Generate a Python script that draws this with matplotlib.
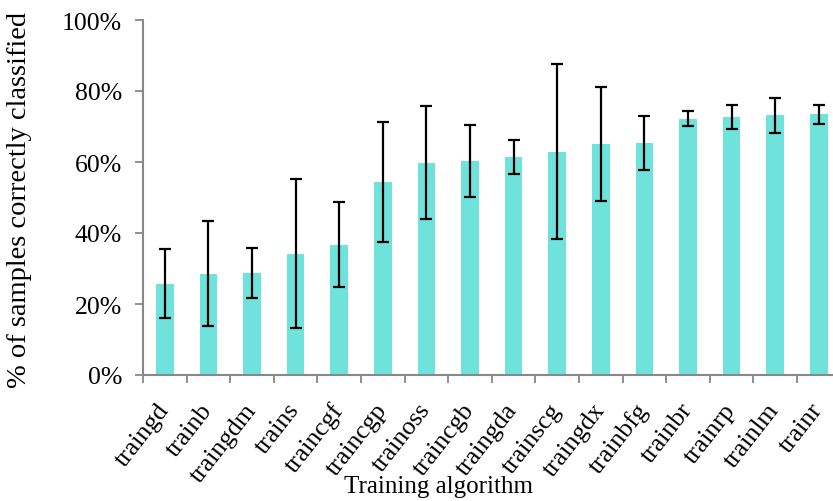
import matplotlib
matplotlib.use("Agg")
import matplotlib.pyplot as plt
from matplotlib.ticker import FuncFormatter, FixedLocator
import numpy as np

algorithms = ["traingd", "trainb", "traingdm", "trains", "traincgf", "traincgp",
              "trainoss", "traincgb", "traingda", "trainscg", "traingdx", "trainbfg",
              "trainbr", "trainrp", "trainlm", "trainr"]
accuracy = [25.7, 28.4, 28.7, 34.2, 36.6, 54.3, 59.8, 60.3, 61.3, 62.7, 65.0, 65.3,
            72.1, 72.7, 73.1, 73.4]
err_upper = [35.6, 43.3, 35.9, 55.3, 48.6, 71.3, 75.7, 70.4, 66.1, 87.5, 81.2, 72.9,
             74.3, 76.0, 77.9, 76.0]
err_lower = [16.0, 13.8, 21.8, 13.2, 24.8, 37.6, 43.9, 50.1, 56.7, 38.2, 48.9, 57.8,
             70.1, 69.3, 68.2, 70.8]
y_ticks = [0, 20, 40, 60, 80, 100]

plt.rcParams["font.family"] = ["Liberation Serif", "DejaVu Serif"]

W, H = 833, 502
fig = plt.figure(figsize=(W / 100, H / 100), dpi=100)
left, bottom, top = 143, 376, 21
n = len(algorithms)
step = 43.6
ax = fig.add_axes([left / W, 1 - bottom / H, n * step / W, (bottom - top) / H])

x = np.arange(n)
acc = np.array(accuracy)
yerr = np.vstack([acc - np.array(err_lower), np.array(err_upper) - acc])
ax.bar(x, acc, width=0.4, color="#6fe2dc", zorder=2)
ax.errorbar(x, acc, yerr=yerr, fmt="none", ecolor="black", elinewidth=1.6,
            capsize=4.3, capthick=1.6, zorder=3)

ax.set_xlim(-0.5, n - 0.5)
ax.set_ylim(0, 100)
ax.yaxis.set_major_locator(FixedLocator(y_ticks))
ax.yaxis.set_major_formatter(FuncFormatter(lambda v, p: f"{v:.0f}%"))

ax.set_xticks(x)
ax.set_xticklabels(algorithms, rotation=52, ha="right", va="center",
                   rotation_mode="anchor", fontsize=18.5)
ax.set_xticks(np.arange(n + 1) - 0.5, minor=True)
ax.tick_params(axis="x", which="major", length=0, pad=22)
ax.tick_params(axis="x", which="minor", length=6, width=1.3, color="#888888",
               direction="out")
ax.tick_params(axis="y", length=6, width=1.3, color="#888888", direction="out",
               labelsize=18.5, pad=9)

for side in ("top", "right"):
    ax.spines[side].set_visible(False)
for side in ("left", "bottom"):
    ax.spines[side].set_color("#888888")
    ax.spines[side].set_linewidth(1.5)

fig.text(20 / W, 1 - 200 / H, "% of samples correctly classified", rotation=90,
         ha="center", va="center", fontsize=20.5)
fig.text(438 / W, 1 - 487 / H, "Training algorithm", ha="center", va="center",
         fontsize=18)

fig.savefig("out.png", dpi=100)
